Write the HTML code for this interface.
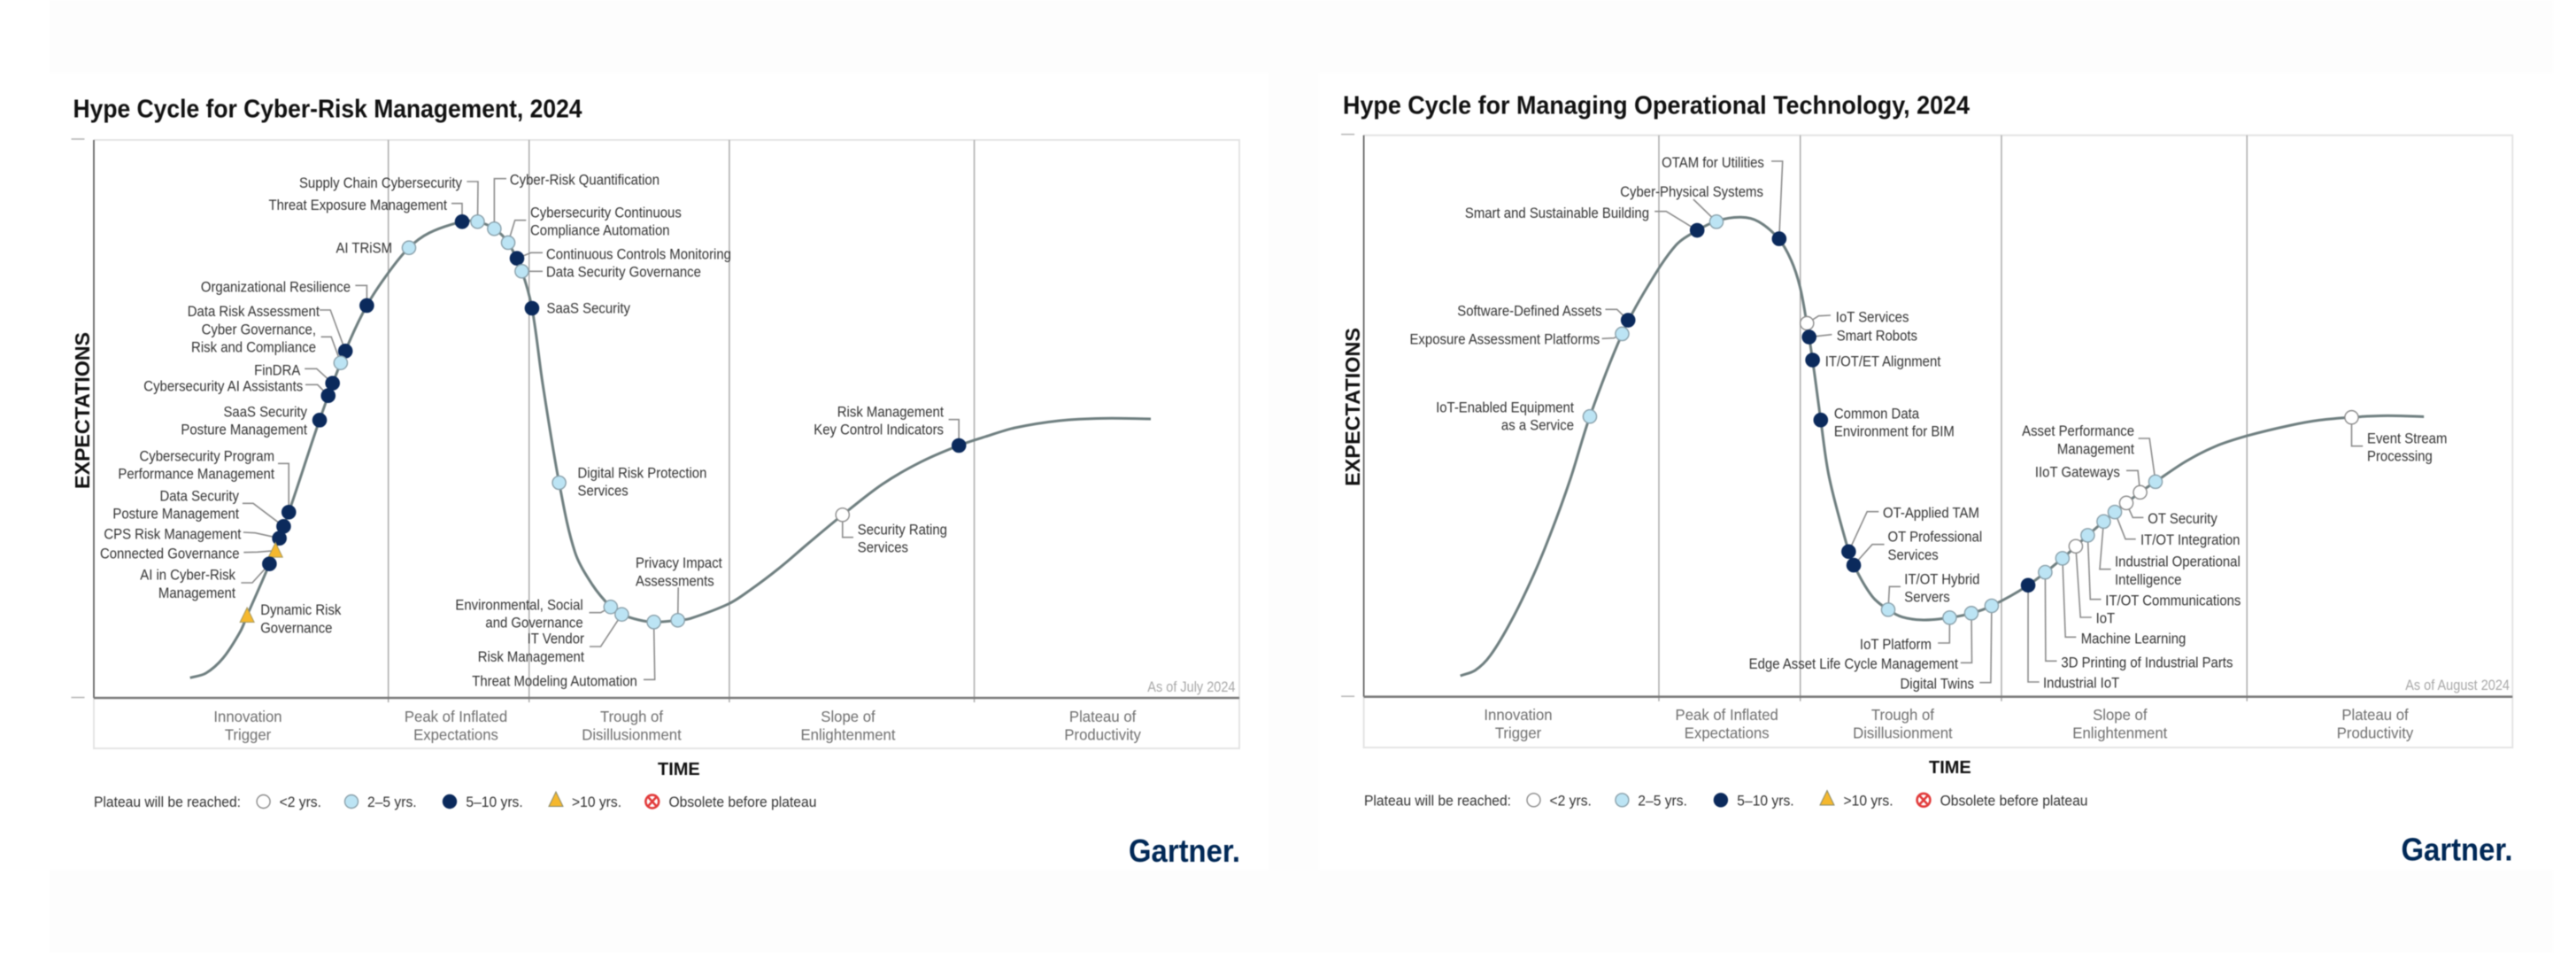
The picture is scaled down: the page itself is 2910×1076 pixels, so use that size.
<!DOCTYPE html>
<html lang="en">
<head>
<meta charset="utf-8">
<title>Gartner Hype Cycles 2024</title>
<style>
html,body{margin:0;padding:0;background:#fff;}
svg{display:block;font-family:"Liberation Sans",sans-serif;filter:blur(.4px);}
</style>
</head>
<body>
<svg id="stage" width="2910" height="1076" viewBox="0 0 2910 1076" xmlns="http://www.w3.org/2000/svg">
  <rect x="56" y="0" width="2828" height="1076" fill="#fdfdfd"/>
  <rect x="56" y="82" width="1377" height="900" fill="#fff"/>
  <rect x="1490" y="82" width="1394" height="900" fill="#fff"/>

  <g id="cyber"></g>
  <g id="ot"></g>

  <!-- Left chart static text -->
  <text x="82.5" y="132.5" font-size="29" font-weight="700" fill="#111" textLength="575" lengthAdjust="spacingAndGlyphs">Hype Cycle for Cyber-Risk Management, 2024</text>
  <text transform="translate(101,552) rotate(-90)" font-size="23" font-weight="700" fill="#111" textLength="177" lengthAdjust="spacingAndGlyphs">EXPECTATIONS</text>
  <text x="743" y="875" font-size="20" font-weight="700" fill="#111">TIME</text>
  <text transform="translate(1395.5,781) scale(.88,1)" text-anchor="end" font-size="16.5" fill="#a8a8a8">As of July 2024</text>
  <g font-size="17" fill="#333">
    <text transform="translate(106,911) scale(.92,1)">Plateau will be reached:</text>
    <circle cx="297.6" cy="905" r="7.5" fill="#fff" stroke="#8b8b8b" stroke-width="1.4"/>
    <text transform="translate(315.6,911) scale(.92,1)">&lt;2 yrs.</text>
    <circle cx="397" cy="905" r="7.5" fill="#bce4f4" stroke="#8aa0aa" stroke-width="1.4"/>
    <text transform="translate(415,911) scale(.92,1)">2–5 yrs.</text>
    <circle cx="508" cy="905" r="7.5" fill="#0b2a5c" stroke="#0b2a5c" stroke-width="1.4"/>
    <text transform="translate(526.4,911) scale(.92,1)">5–10 yrs.</text>
    <polygon points="628,894 636,910.5 620,910.5" fill="#f5b82e" stroke="#8a8a6a" stroke-width="1"/>
    <text transform="translate(646,911) scale(.92,1)">&gt;10 yrs.</text>
    <g stroke="#e23a3a" stroke-width="2.6" fill="none">
      <circle cx="736.8" cy="905" r="7.4"/>
      <path d="M732.6 900.4L741 909.6M741 900.4L732.6 909.6"/>
    </g>
    <text transform="translate(755.5,911) scale(.92,1)">Obsolete before plateau</text>
  </g>
  <text transform="translate(1275,973) scale(.9,1)" font-size="36.5" font-weight="700" fill="#002856">Gartner.</text>

  <!-- Right chart static text -->
  <text x="1517" y="128.5" font-size="29" font-weight="700" fill="#111" textLength="708" lengthAdjust="spacingAndGlyphs">Hype Cycle for Managing Operational Technology, 2024</text>
  <text transform="translate(1536,549) rotate(-90)" font-size="23" font-weight="700" fill="#111" textLength="179" lengthAdjust="spacingAndGlyphs">EXPECTATIONS</text>
  <text x="2179" y="873" font-size="20" font-weight="700" fill="#111">TIME</text>
  <text transform="translate(2835,779) scale(.88,1)" text-anchor="end" font-size="16.5" fill="#a8a8a8">As of August 2024</text>
  <g font-size="17" fill="#333">
    <text transform="translate(1541,909.5) scale(.92,1)">Plateau will be reached:</text>
    <circle cx="1732.5" cy="903.3" r="7.5" fill="#fff" stroke="#8b8b8b" stroke-width="1.4"/>
    <text transform="translate(1750.5,909.5) scale(.92,1)">&lt;2 yrs.</text>
    <circle cx="1832.4" cy="903.3" r="7.5" fill="#bce4f4" stroke="#8aa0aa" stroke-width="1.4"/>
    <text transform="translate(1850.3,909.5) scale(.92,1)">2–5 yrs.</text>
    <circle cx="1943.9" cy="903.3" r="7.5" fill="#0b2a5c" stroke="#0b2a5c" stroke-width="1.4"/>
    <text transform="translate(1962.3,909.5) scale(.92,1)">5–10 yrs.</text>
    <polygon points="2064,892.5 2072,909 2056,909" fill="#f5b82e" stroke="#8a8a6a" stroke-width="1"/>
    <text transform="translate(2082.5,909.5) scale(.92,1)">&gt;10 yrs.</text>
    <g stroke="#e23a3a" stroke-width="2.6" fill="none">
      <circle cx="2173" cy="903.3" r="7.4"/>
      <path d="M2168.8 898.7L2177.2 907.9M2177.2 898.7L2168.8 907.9"/>
    </g>
    <text transform="translate(2191.6,909.5) scale(.92,1)">Obsolete before plateau</text>
  </g>
  <text transform="translate(2712.5,971.5) scale(.9,1)" font-size="36.5" font-weight="700" fill="#002856">Gartner.</text>
</svg>

<script>
/* ---------- Shared categories ---------- */
const phaseLabels = [
  ["Innovation", "Trigger"],
  ["Peak of Inflated", "Expectations"],
  ["Trough of", "Disillusionment"],
  ["Slope of", "Enlightenment"],
  ["Plateau of", "Productivity"]
];

/* ---------- Cyber-Risk Management data (time 0-100, expectations 0-100) ---------- */
const cyberPhaseBoundaries = [25.71, 38.0, 55.48, 76.86];
const cyberCurveTime = [8.40, 9.79, 11.28, 12.79, 13.38, 15.33, 17.02, 19.71, 21.96, 23.83, 25.71, 27.51, 29.27, 32.15, 33.50, 34.96, 36.17, 37.36, 38.25, 39.18, 40.62, 42.00, 43.51, 45.12, 46.09, 47.60, 48.89, 50.98, 52.09, 55.43, 57.24, 59.81, 62.39, 65.40, 68.83, 72.18, 75.52, 77.84, 80.42, 84.29, 88.15, 92.27];
const cyberCurveExpect = [3.60, 4.44, 7.14, 11.90, 14.76, 24.02, 33.29, 49.79, 62.17, 70.32, 76.19, 80.68, 83.33, 85.35, 85.35, 84.08, 81.59, 76.46, 69.84, 56.35, 38.57, 26.14, 20.32, 16.30, 14.97, 13.97, 13.60, 13.92, 14.24, 16.87, 19.25, 23.22, 27.73, 32.86, 38.30, 42.27, 45.24, 46.83, 48.41, 49.68, 50.10, 50.00];
const cyberNames = [
  "Threat Exposure Management", "Supply Chain Cybersecurity", "Cyber-Risk Quantification",
  "Cybersecurity Continuous\nCompliance Automation", "Continuous Controls Monitoring", "Data Security Governance",
  "SaaS Security", "AI TRiSM", "Organizational Resilience", "Data Risk Assessment",
  "Cyber Governance,\nRisk and Compliance", "FinDRA", "Cybersecurity AI Assistants",
  "SaaS Security\nPosture Management", "Digital Risk Protection\nServices",
  "Cybersecurity Program\nPerformance Management", "Data Security\nPosture Management",
  "CPS Risk Management", "Connected Governance", "AI in Cyber-Risk\nManagement", "Dynamic Risk\nGovernance",
  "Environmental, Social\nand Governance", "IT Vendor\nRisk Management", "Threat Modeling Automation",
  "Privacy Impact\nAssessments", "Security Rating\nServices", "Risk Management\nKey Control Indicators"
];
const cyberTimes = [32.15, 33.50, 34.96, 36.17, 36.94, 37.36, 38.25, 27.51, 23.83, 21.96, 21.55, 20.84, 20.46, 19.71, 40.62, 17.02, 16.57, 16.20, 15.86, 15.33, 13.38, 45.12, 46.09, 48.89, 50.98, 65.36, 75.52];
const cyberExpect = [85.35, 85.35, 84.08, 81.59, 78.78, 76.46, 69.84, 80.68, 70.32, 62.17, 60.05, 56.40, 54.17, 49.79, 38.57, 33.29, 30.75, 28.62, 26.40, 24.02, 14.76, 16.30, 14.97, 13.60, 13.92, 32.81, 45.24];
const cyberPlateau = ["5-10", "2-5", "2-5", "2-5", "5-10", "2-5", "5-10", "2-5", "5-10", "5-10", "2-5", "5-10", "5-10", "5-10", "2-5", "5-10", "5-10", "5-10", ">10", "5-10", ">10", "2-5", "2-5", "2-5", "2-5", "<2", "5-10"];
/* label placement: anchor, x, first-line centre y, fixed leader vertices (the leader always ends at its mark) */
const cyberLabelLayout = [
  ["end", 505, 231, [[510, 229.7], [522, 229.7]]],
  ["end", 522, 206, [[527.4, 205], [540, 205]]],
  ["start", 575.9, 202.7, [[572, 201.7], [558.4, 201.7]]],
  ["start", 599, 239.3, [[594.3, 248.7], [581.7, 248.7]]],
  ["start", 617, 286.3, [[613, 285.3], [600, 285.3]]],
  ["start", 617, 306.7, [[613, 306.3]]],
  ["start", 617.5, 347.7, []],
  ["end", 443, 279.7, []],
  ["end", 396, 323.7, [[401.4, 322.3], [414.4, 322.3]]],
  ["end", 361, 351, [[361, 350], [373.2, 350]]],
  ["end", 357, 371.3, [[362.6, 380.3], [374.2, 380.3]]],
  ["end", 339.3, 417.3, [[344.2, 416.3], [357.7, 416.3]]],
  ["end", 342.2, 435.7, [[345, 434.3], [358.7, 434.3]]],
  ["end", 347, 464.3, []],
  ["start", 652.5, 533.3, []],
  ["end", 310, 514.3, [[314, 523.3], [326.2, 523.3]]],
  ["end", 270, 559.3, [[273.9, 568.3], [286, 568.3]]],
  ["end", 272.4, 602.3, [[274.8, 601], [288.4, 601.7]]],
  ["end", 270.5, 624.3, [[275.3, 623.7], [290.8, 623.3]]],
  ["end", 266, 648.7, [[272.4, 658], [285, 658]]],
  ["start", 294.2, 688, []],
  ["end", 658.7, 682.3, [[665.5, 691.7], [678.6, 691.7]]],
  ["end", 660, 720.7, [[666, 730], [678.6, 730]]],
  ["end", 719.8, 768.3, [[727, 767.3], [739.7, 767.3]]],
  ["start", 718, 635, [[766.2, 663.3]]],
  ["start", 968.8, 597.3, [[964, 606.7], [951.8, 606.7]]],
  ["end", 1066, 464.3, [[1071.6, 473.7], [1083.2, 473.7]]]
];

/* ---------- Managing Operational Technology data ---------- */
const otPhaseBoundaries = [25.69, 38.0, 55.51, 76.88];
const otCurveTime = [8.41, 9.71, 11.02, 12.88, 14.75, 16.24, 18.00, 19.68, 22.49, 24.69, 27.18, 29.03, 30.72, 32.84, 34.38, 36.12, 37.20, 37.97, 38.56, 39.07, 39.78, 40.53, 42.21, 42.65, 44.26, 45.65, 46.88, 48.73, 51.00, 52.89, 54.66, 57.83, 60.82, 63.02, 65.38, 67.58, 68.92, 71.62, 74.18, 76.88, 80.61, 83.18, 86.00, 89.09, 92.29];
const otCurveExpect = [3.74, 4.73, 7.36, 13.67, 21.55, 28.91, 38.89, 49.92, 64.63, 72.99, 80.42, 83.05, 84.73, 85.40, 84.60, 81.56, 77.77, 73.05, 66.58, 59.96, 49.29, 38.89, 25.85, 23.44, 17.87, 15.51, 14.19, 13.67, 14.09, 14.88, 16.19, 19.86, 24.65, 28.75, 32.90, 36.41, 38.30, 41.99, 44.63, 46.46, 48.31, 49.26, 49.78, 50.05, 49.88];
const otNames = [
  "OTAM for Utilities", "Cyber-Physical Systems", "Smart and Sustainable Building", "Software-Defined Assets",
  "Exposure Assessment Platforms", "IoT-Enabled Equipment\nas a Service", "IoT Services", "Smart Robots",
  "IT/OT/ET Alignment", "Common Data\nEnvironment for BIM", "OT-Applied TAM", "OT Professional\nServices",
  "IT/OT Hybrid\nServers", "IoT Platform", "Edge Asset Life Cycle Management", "Digital Twins", "Industrial IoT",
  "3D Printing of Industrial Parts", "Machine Learning", "IoT", "IT/OT Communications",
  "Industrial Operational\nIntelligence", "IT/OT Integration", "OT Security", "IIoT Gateways",
  "Asset Performance\nManagement", "Event Stream\nProcessing"
];
const otTimes = [36.16, 30.70, 29.02, 23.01, 22.49, 19.68, 38.58, 38.77, 39.07, 39.78, 42.21, 42.65, 45.65, 51.00, 52.89, 54.66, 57.83, 59.32, 60.82, 61.98, 63.02, 64.41, 65.38, 66.38, 67.58, 68.92, 85.99];
const otExpect = [81.56, 84.60, 83.07, 67.06, 64.63, 49.92, 66.52, 64.06, 59.96, 49.29, 25.85, 23.44, 15.51, 14.09, 14.88, 16.19, 19.86, 22.18, 24.65, 26.80, 28.75, 31.21, 32.90, 34.52, 36.41, 38.30, 49.76];
const otPlateau = ["5-10", "2-5", "5-10", "5-10", "2-5", "2-5", "<2", "5-10", "5-10", "5-10", "5-10", "5-10", "2-5", "2-5", "2-5", "2-5", "5-10", "2-5", "2-5", "<2", "2-5", "2-5", "2-5", "<2", "<2", "2-5", "<2"];
const otLabelLayout = [
  ["end", 1992.9, 183, [[2001, 182], [2013.7, 182]]],
  ["end", 1991.9, 216, [[1912.9, 225]]],
  ["end", 1863, 240, [[1869.2, 238.7], [1882.3, 238.7]]],
  ["end", 1809.6, 350.7, [[1813.5, 349.3], [1826.6, 349.3]]],
  ["end", 1807.2, 382.7, [[1809.6, 382.3], [1823.2, 381.7]]],
  ["end", 1778, 459.3, []],
  ["start", 2073.8, 357.3, [[2068, 356], [2054.4, 356.7]]],
  ["start", 2074.8, 378.3, [[2069.4, 377.7]]],
  ["start", 2061.7, 407.7, []],
  ["start", 2071.9, 466.3, []],
  ["start", 2127, 578.7, [[2122.3, 577.7], [2109.2, 577.7]]],
  ["start", 2132.5, 605.7, [[2128.6, 614.7], [2115, 614.7]]],
  ["start", 2151.3, 653.3, [[2147, 662.3], [2134.4, 662.3]]],
  ["end", 2181.9, 727, [[2189.2, 726], [2202.3, 726]]],
  ["end", 2212, 749, [[2214.8, 748.3], [2227.5, 748.3]]],
  ["end", 2230, 771.7, [[2236.3, 770.7], [2248.9, 770.7]]],
  ["start", 2308, 770.7, [[2303.7, 770], [2291, 770]]],
  ["start", 2328.4, 747.3, [[2323.5, 746.3], [2310.9, 746.3]]],
  ["start", 2350.7, 720.3, [[2345.3, 719.3], [2333.2, 719.3]]],
  ["start", 2367.6, 697.7, [[2362.8, 697], [2350.2, 697]]],
  ["start", 2378.3, 677.3, [[2373.5, 676.7], [2361.3, 676.7]]],
  ["start", 2389, 633.7, [[2384.6, 642.7], [2372, 642.7]]],
  ["start", 2418, 609, [[2412.7, 608.7], [2401, 608.7]]],
  ["start", 2426.3, 585, [[2421.4, 584.3], [2409.3, 584.3]]],
  ["end", 2394.8, 532.7, [[2402, 531.3], [2415.1, 531.3]]],
  ["end", 2411, 486, [[2415.6, 495], [2428.2, 495]]],
  ["start", 2674, 494.3, [[2669.2, 503.7], [2656.5, 503.7]]]
];

/* ---------- Rendering ---------- */
const SVG_NS = "http://www.w3.org/2000/svg";
const MARK_STYLE = {
  "<2": { fill: "#ffffff", stroke: "#8b8b8b" },
  "2-5": { fill: "#bce4f4", stroke: "#8aa0aa" },
  "5-10": { fill: "#0b2a5c", stroke: "#0b2a5c" },
  ">10": { fill: "#f5b82e", stroke: "#a89a60" }
};
function make(tag, attrs, parent) {
  const node = document.createElementNS(SVG_NS, tag);
  Object.keys(attrs).forEach(function (k) { node.setAttribute(k, attrs[k]); });
  parent.appendChild(node);
  return node;
}
function slug(s) {
  return s.toLowerCase().replace(/[^a-z0-9]+/g, "-").replace(/^-|-$/g, "");
}
/* Smooth curve: tangent follows the neighbouring chord, handle length follows the segment length. */
function smoothPath(pts) {
  function tangent(i) {
    const a = pts[Math.max(i - 1, 0)], b = pts[Math.min(i + 1, pts.length - 1)];
    const dx = b[0] - a[0], dy = b[1] - a[1], len = Math.hypot(dx, dy) || 1;
    return [dx / len, dy / len];
  }
  let d = "M" + pts[0][0].toFixed(1) + " " + pts[0][1].toFixed(1);
  for (let i = 0; i < pts.length - 1; i++) {
    const p1 = pts[i], p2 = pts[i + 1];
    const h = Math.hypot(p2[0] - p1[0], p2[1] - p1[1]) / 3;
    const t1 = tangent(i), t2 = tangent(i + 1);
    d += "C" + (p1[0] + t1[0] * h).toFixed(1) + " " + (p1[1] + t1[1] * h).toFixed(1) + " " +
         (p2[0] - t2[0] * h).toFixed(1) + " " + (p2[1] - t2[1] * h).toFixed(1) + " " +
         p2[0].toFixed(1) + " " + p2[1].toFixed(1);
  }
  return d;
}
function renderChart(c) {
  const root = document.getElementById(c.id);
  const x = function (t) { return c.left + (t / 100) * (c.right - c.left); };
  const y = function (e) { return c.bottom - (e / 100) * (c.bottom - c.top); };

  const frame = make("path", { d: "M" + c.left + " " + c.bottom + "V" + c.boxBottom + "H" + c.right + "V" + c.top + "H" + c.left, fill: "none", stroke: "#e4e4e4", "stroke-width": 2 }, root);
  
  

  const tickTop = make("line", { x1: c.left - 25.5, x2: c.left - 10.5, y1: c.top - 1, y2: c.top - 1, stroke: "#b8b8b8", "stroke-width": 1.6 }, root);
  
  
  const tickLow = make("line", { x1: c.left - 25.5, x2: c.left - 10.5, y1: c.bottom - 0.5, y2: c.bottom - 0.5, stroke: "#b8b8b8", "stroke-width": 1.6 }, root);
  
  

  c.boundaries.forEach(function (t) {
    const line = make("line", { x1: x(t), x2: x(t), y1: c.top, y2: c.bottom + 5, stroke: "#ababab", "stroke-width": 1.5 }, root);
    
    
  });

  const yAxis = make("line", { x1: c.left, x2: c.left, y1: c.top, y2: c.bottom, stroke: "#555", "stroke-width": 1.6 }, root);
  
  
  const xAxis = make("line", { x1: c.left, x2: c.right, y1: c.bottom, y2: c.bottom, stroke: "#7a7a7a", "stroke-width": 2.6 }, root);
  
  

  phaseLabels.forEach(function (lines, i) {
    const g = make("g", { fill: "#6e6e6e", "font-size": 18, "text-anchor": "middle" }, root);
    
    
    lines.forEach(function (line, j) {
      const t = make("text", { transform: "translate(" + c.phaseCenters[i] + "," + (c.phaseY + 6.5 + j * 20.4) + ") scale(.93,1)" }, g);
      t.textContent = line;
    });
  });

  const pts = c.curveTime.map(function (t, i) { return [x(t), y(c.curveExpect[i])]; });
  const curve = make("path", { d: smoothPath(pts), fill: "none", stroke: "#6f7f80", "stroke-width": 3 }, root);
  
  

  c.names.forEach(function (name, i) {
    const px = x(c.times[i]), py = y(c.expect[i]);
    const via = c.layout[i][3];
    if (via.length) {
      const points = via.concat([[px, py]]).map(function (p) { return p[0].toFixed(1) + "," + p[1].toFixed(1); }).join(" ");
      const leader = make("polyline", { points: points, fill: "none", stroke: "#8c8c8c", "stroke-width": 1.6 }, root);
      
      
    }
  });

  c.names.forEach(function (name, i) {
    const px = x(c.times[i]), py = y(c.expect[i]);
    const st = MARK_STYLE[c.plateau[i]];
    let mark;
    if (c.plateau[i] === ">10") {
      mark = make("polygon", { points: px + "," + (py - 9) + " " + (px + 8) + "," + (py + 7.5) + " " + (px - 8) + "," + (py + 7.5), fill: st.fill, stroke: st.stroke, "stroke-width": 1 }, root);
    } else {
      mark = make("circle", { cx: px, cy: py, r: 7.6, fill: st.fill, stroke: st.stroke, "stroke-width": 1.4 }, root);
    }
    
    
  });

  c.names.forEach(function (name, i) {
    const lay = c.layout[i];
    const g = make("g", { fill: "#333", "font-size": 16.5, "text-anchor": lay[0] }, root);
    
    
    name.split("\n").forEach(function (line, j) {
      const t = make("text", { transform: "translate(" + lay[1] + "," + (lay[2] + 6 + j * 20.4) + ") scale(.905,1)" }, g);
      t.textContent = line;
    });
  });
}

renderChart({
  id: "cyber", left: 106, right: 1400, top: 158, bottom: 788, boxBottom: 845,
  phaseCenters: [280, 515, 713.5, 958, 1245.6], phaseY: 808.7,
  boundaries: cyberPhaseBoundaries, curveTime: cyberCurveTime, curveExpect: cyberCurveExpect,
  names: cyberNames, times: cyberTimes, expect: cyberExpect, plateau: cyberPlateau, layout: cyberLabelLayout
});
renderChart({
  id: "ot", left: 1540.6, right: 2838.3, top: 152.7, bottom: 786.7, boxBottom: 844,
  phaseCenters: [1715, 1950.7, 2149.4, 2394.8, 2683], phaseY: 806.7,
  boundaries: otPhaseBoundaries, curveTime: otCurveTime, curveExpect: otCurveExpect,
  names: otNames, times: otTimes, expect: otExpect, plateau: otPlateau, layout: otLabelLayout
});
</script>
</body>
</html>
